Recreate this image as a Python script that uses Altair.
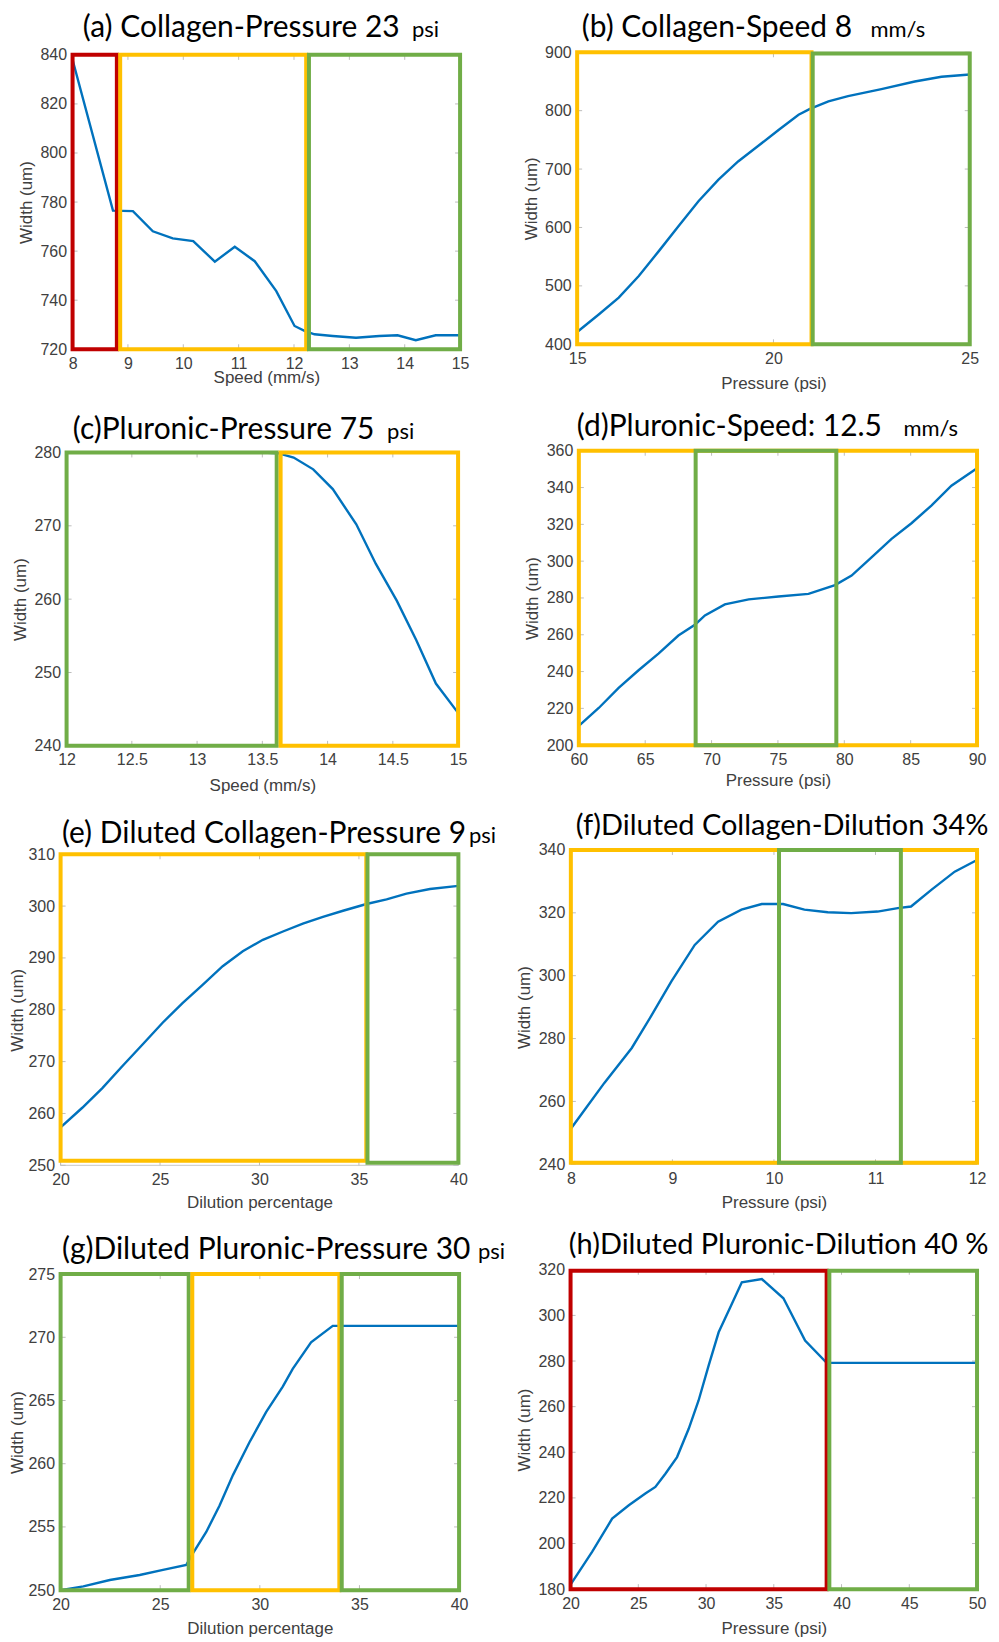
import altair as alt
import pandas as pd

W = 985
H = 1632

BLUE = "#0072BD"
RED = "#C00000"
ORANGE = "#FFC000"
GREEN = "#70AD47"
LABEL_FONT = "Liberation Sans"
TITLE_FONT = "Lato"
TXT = "#404040"

# ---------------- data ----------------
a_speed = [8.0, 8.73, 9.09, 9.45, 9.81, 10.18, 10.57, 10.93, 11.29, 11.68, 12.01, 12.19, 12.37, 12.7, 13.12, 13.54, 13.87, 14.2, 14.56, 15.0]
a_width = [838, 776.5, 776.3, 768.1, 765.2, 764.1, 755.7, 761.8, 755.9, 743.7, 729.5, 727.5, 726.1, 725.4, 724.7, 725.4, 725.7, 723.7, 725.7, 725.7]

b_pressure = [15.0, 15.55, 16.06, 16.57, 17.08, 17.58, 18.09, 18.6, 19.1, 19.6, 20.13, 20.64, 20.93, 21.4, 21.9, 22.75, 23.6, 24.28, 25.0]
b_width = [421, 451, 480, 517, 559.5, 602, 645, 682, 713, 739, 767, 793, 803, 816, 825, 837, 850, 858, 862]

c_speed = [12.0, 13.5, 13.62, 13.74, 13.89, 14.04, 14.22, 14.37, 14.53, 14.68, 14.83, 15.0]
c_width = [280, 280, 279.9, 279.3, 277.7, 275, 270.2, 264.8, 259.8, 254.4, 248.5, 244.5]

d_pressure = [60.0, 61.5, 63, 64.5, 66, 67.5, 68.77, 69.5, 71, 72.8, 75.04, 77.3, 79.3, 80.55, 82.05, 83.56, 85.06, 86.56, 88.07, 90.0]
d_width = [210.5, 220.2, 231.1, 240.7, 249.7, 259.6, 265.6, 270.5, 276.5, 279.2, 280.8, 282.2, 287, 292.2, 302.1, 312.1, 320.6, 330.2, 341, 350.5]

e_dilution = [20.0, 21.09, 22.1, 23.1, 24.12, 25.13, 26.13, 27.14, 28.15, 29.16, 30.17, 31.18, 32.18, 33.19, 34.2, 35.38, 36.39, 37.39, 38.57, 40.0]
e_width = [257.3, 261.1, 264.9, 269.1, 273.3, 277.5, 281.3, 284.8, 288.4, 291.3, 293.5, 295.1, 296.6, 297.9, 299.1, 300.4, 301.3, 302.4, 303.3, 303.9]

f_pressure = [8.0, 8.14, 8.33, 8.6, 8.79, 8.99, 9.22, 9.45, 9.68, 9.88, 10.09, 10.3, 10.53, 10.76, 11.02, 11.22, 11.35, 11.55, 11.78, 12.0]
f_width = [251.3, 257.5, 265.9, 277, 287.1, 298.2, 309.8, 317.2, 321, 322.8, 322.8, 321, 320.2, 319.9, 320.4, 321.5, 322, 327.3, 333.1, 336.8]

g_dilution = [20.0, 21.14, 22.47, 23.97, 25.14, 26.31, 26.64, 27.31, 27.98, 28.65, 29.48, 30.32, 31.15, 31.65, 32.57, 33.66, 33.82, 40.0]
g_width = [250.0, 250.3, 250.8, 251.2, 251.6, 252.0, 252.9, 254.6, 256.7, 259.1, 261.7, 264.1, 266.1, 267.5, 269.6, 270.9, 270.9, 270.9]

h_pressure = [20.0, 21.6, 23.07, 24.3, 25.52, 26.26, 27.0, 27.86, 28.72, 29.45, 30.19, 30.93, 31.78, 32.64, 34.12, 35.71, 37.31, 38.9, 50.0]
h_width = [182.0, 196.4, 210.9, 216.8, 221.9, 224.8, 230.6, 237.9, 250.3, 262.7, 278, 292.6, 303.5, 314.5, 315.9, 307.5, 289, 279.2, 279.2]

# tick values
a_xt = [8, 9, 10, 11, 12, 13, 14, 15]
a_yt = [720, 740, 760, 780, 800, 820, 840]
b_xt = [15, 20, 25]
b_yt = [400, 500, 600, 700, 800, 900]
c_xt = [12, 12.5, 13, 13.5, 14, 14.5, 15]
c_yt = [240, 250, 260, 270, 280]
d_xt = [60, 65, 70, 75, 80, 85, 90]
d_yt = [200, 220, 240, 260, 280, 300, 320, 340, 360]
e_xt = [20, 25, 30, 35, 40]
e_yt = [250, 260, 270, 280, 290, 300, 310]
f_xt = [8, 9, 10, 11, 12]
f_yt = [240, 260, 280, 300, 320, 340]
g_xt = [20, 25, 30, 35, 40]
g_yt = [250, 255, 260, 265, 270, 275]
h_xt = [20, 25, 30, 35, 40, 45, 50]
h_yt = [180, 200, 220, 240, 260, 280, 300, 320]

# highlighted regions: (x0, x1, y0, y1, colour)
a_boxes = [(8.0, 8.8, 720, 840, RED), (8.86, 12.22, 720, 840, ORANGE), (12.27, 15.0, 720, 840, GREEN)]
b_boxes = [(15.0, 20.97, 400, 900, ORANGE), (21.0, 25.0, 400, 898, GREEN)]
c_boxes = [(12.0, 13.61, 240, 280, GREEN), (13.64, 15.0, 240, 280, ORANGE)]
d_boxes = [(60.0, 90.0, 200, 360, ORANGE), (68.8, 79.4, 200, 360, GREEN)]
e_boxes = [(20.0, 35.37, 250.9, 310, ORANGE), (35.43, 40.0, 250.5, 310, GREEN)]
f_boxes = [(8.0, 12.0, 240.5, 340, ORANGE), (10.05, 11.25, 240.5, 340, GREEN)]
g_boxes = [(20.0, 26.43, 250, 275, GREEN), (26.61, 33.99, 250, 275, ORANGE), (34.11, 40.0, 250, 275, GREEN)]
h_boxes = [(20.0, 38.9, 180, 319.6, RED), (39.1, 50.0, 180, 319.6, GREEN)]


def panel(xs, ys, xdom, ydom, xticks, yticks, boxes, xr, yr, xtitle, xty,
          tmain, tunit, tleft, tright, tbase, tsize):
    xsc = alt.Scale(domain=xdom, range=xr, zero=False, nice=False)
    ysc = alt.Scale(domain=ydom, range=yr, zero=False, nice=False)
    common = dict(labelExpr="datum.value + ''", labelFlush=False, labelOverlap=False,
                  ticks=False, tickSize=0, domain=False, grid=False,
                  labelFont=LABEL_FONT, labelFontSize=16, labelColor=TXT, labelPadding=6,
                  titleFont=LABEL_FONT, titleFontSize=17, titleFontWeight="normal",
                  titleColor=TXT, titleBaseline="middle")
    xaxis = alt.Axis(orient="bottom", offset=yr[0] - H, values=xticks,
                     title=xtitle, titleY=xty, **common)
    yaxis = alt.Axis(orient="left", offset=-xr[0], values=yticks,
                     title="Width (um)", titleX=-min(46, xr[0] - 9.5), **common)

    def X(f):
        return alt.X(f, scale=xsc, axis=xaxis)

    def Y(f):
        return alt.Y(f, scale=ysc, axis=yaxis)

    frame_df = pd.DataFrame({"x0": [xdom[0]], "x1": [xdom[1]], "y0": [ydom[0]], "y1": [ydom[1]]})
    frame = alt.Chart(frame_df).mark_rect(filled=False, stroke="#c6c6c6", strokeWidth=1).encode(
        x=X("x0:Q"), x2="x1:Q", y=Y("y0:Q"), y2="y1:Q")

    xt_df = pd.DataFrame({"v": xticks, "b": [ydom[0]] * len(xticks), "t": [ydom[1]] * len(xticks)})
    yt_df = pd.DataFrame({"v": yticks, "l": [xdom[0]] * len(yticks), "r": [xdom[1]] * len(yticks)})
    tick_style = dict(color="#bdbdbd", strokeWidth=1)
    tb = alt.Chart(xt_df).mark_rule(y2Offset=-5, **tick_style).encode(x=X("v:Q"), y=Y("b:Q"), y2="b:Q")
    tt = alt.Chart(xt_df).mark_rule(y2Offset=5, **tick_style).encode(x=X("v:Q"), y=Y("t:Q"), y2="t:Q")
    tl = alt.Chart(yt_df).mark_rule(x2Offset=5, **tick_style).encode(y=Y("v:Q"), x=X("l:Q"), x2="l:Q")
    tr = alt.Chart(yt_df).mark_rule(x2Offset=-5, **tick_style).encode(y=Y("v:Q"), x=X("r:Q"), x2="r:Q")

    line_df = pd.DataFrame({"x": xs, "y": ys})
    line = alt.Chart(line_df).mark_line(color=BLUE, strokeWidth=2.4, clip=False).encode(
        x=X("x:Q"), y=Y("y:Q"), order=alt.Order("x:Q"))

    box_df = pd.DataFrame(boxes, columns=["x0", "x1", "y0", "y1", "c"])
    box = alt.Chart(box_df).mark_rect(filled=False, strokeWidth=4).encode(
        x=X("x0:Q"), x2="x1:Q", y=Y("y0:Q"), y2="y1:Q",
        stroke=alt.Stroke("c:N", scale=None, legend=None))

    one = pd.DataFrame({"k": [0]})
    layers = [frame, tb, tt, tl, tr, line, box]
    layers.append(alt.Chart(one).mark_text(text=tmain, font=TITLE_FONT, fontSize=tsize, color="black",
                                           align="left", baseline="alphabetic").encode(
        x=alt.value(tleft), y=alt.value(tbase)))
    if tunit:
        layers.append(alt.Chart(one).mark_text(text=tunit, font=TITLE_FONT, fontSize=22, color="black",
                                               align="right", baseline="alphabetic").encode(
            x=alt.value(tright), y=alt.value(tbase)))
    return alt.layer(*layers)


panels = [
    panel(a_speed, a_width, [8, 15], [720, 840], a_xt, a_yt, a_boxes, [64.7, 453], [340.3, 45.3],
          "Speed (mm/s)", 28.7, "(a) Collagen-Pressure 23", "psi", 75, 432, 27, 30),
    panel(b_pressure, b_width, [15, 25], [400, 900], b_xt, b_yt, b_boxes, [570.3, 963.7], [335.3, 42.7],
          "Pressure (psi)", 39.7, "(b) Collagen-Speed 8", "mm/s", 575, 919, 27, 30),
    panel(c_speed, c_width, [12, 15], [240, 280], c_xt, c_yt, c_boxes, [58.7, 451], [737.7, 443.7],
          "Speed (mm/s)", 39.3, "(c)Pluronic-Pressure 75", "psi", 65, 407, 430, 30),
    panel(d_pressure, d_width, [60, 90], [200, 360], d_xt, d_yt, d_boxes, [572, 971], [737, 442],
          "Pressure (psi)", 35, "(d)Pluronic-Speed: 12.5", "mm/s", 570, 952, 427, 30),
    panel(e_dilution, e_width, [20, 40], [250, 310], e_xt, e_yt, e_boxes, [52.7, 451.3], [1158, 846.3],
          "Dilution percentage", 37.3, "(e) Diluted Collagen-Pressure 9", "psi", 54, 489, 835, 30),
    panel(f_pressure, f_width, [8, 12], [240, 340], f_xt, f_yt, f_boxes, [564, 971], [1157, 842],
          "Pressure (psi)", 38, "(f)Diluted Collagen-Dilution 34%", "", 569, 985, 827, 29),
    panel(g_dilution, g_width, [20, 40], [250, 275], g_xt, g_yt, g_boxes, [52.7, 452], [1583.7, 1267],
          "Dilution percentage", 38.3, "(g)Diluted Pluronic-Pressure 30", "psi", 54, 498, 1252, 30),
    panel(h_pressure, h_width, [20, 50], [180, 320], h_xt, h_yt, h_boxes, [563.7, 971], [1582.7, 1262.7],
          "Pressure (psi)", 39.3, "(h)Diluted Pluronic-Dilution 40 %", "", 562, 985, 1247, 29),
]

chart = alt.layer(*panels).resolve_scale(x="independent", y="independent").resolve_axis(
    x="independent", y="independent").properties(
    width=W, height=H, padding=0, autosize=alt.AutoSizeParams(type="none"), background="white"
).configure_view(strokeWidth=0)

chart.save("out.html", embed_options={"renderer": "svg", "actions": False})
